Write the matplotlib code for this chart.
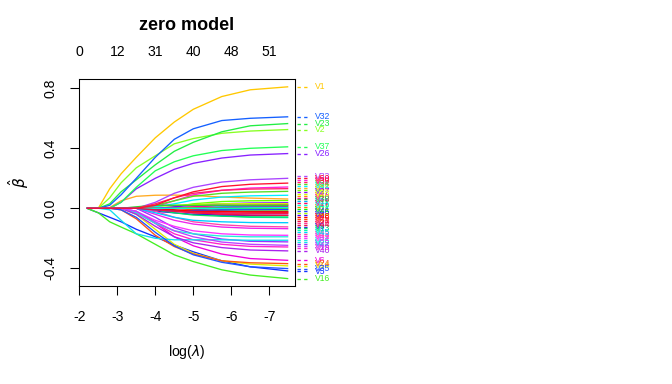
import matplotlib
matplotlib.use("Agg")
import matplotlib.pyplot as plt
import numpy as np

plt.rcParams["font.family"] = ["Liberation Sans", "DejaVu Sans"]

log_lambda = [-2.2, -2.5, -2.8, -3.1, -3.5, -4.0, -4.5, -5.0, -5.75, -6.5, -7.5]

# top axis: number of nonzero coefficients
df_pos = [-2, -3, -4, -5, -6, -7]
df_labels = ["0", "12", "31", "40", "48", "51"]

var_names = [
    "V1", "V2", "V3", "V4", "V5", "V6", "V7", "V8", "V9", "V10",
    "V11", "V12", "V13", "V14", "V15", "V16", "V17", "V18", "V19", "V20",
    "V21", "V22", "V23", "V24", "V25", "V26", "V27", "V28", "V29", "V30",
    "V31", "V32", "V33", "V34", "V35", "V36", "V37", "V38", "V39", "V40",
    "V41", "V42", "V43", "V44", "V45", "V46", "V47", "V48", "V49", "V50",
    "V51",
]

coef_paths = [
    [0, 0, 0.13, 0.23, 0.34, 0.47, 0.575, 0.66, 0.745, 0.79, 0.81],          # V1
    [0, 0, 0.07, 0.17, 0.27, 0.35, 0.43, 0.465, 0.50, 0.515, 0.525],         # V2
    [0, 0, 0, 0, 0, 0, 0.01, 0.03, 0.045, 0.05, 0.052],                      # V3
    [0, 0, 0, 0, 0, 0, 0, 0.01, 0.02, 0.022, 0.024],                         # V4
    [0, -0.03, -0.06, -0.09, -0.14, -0.19, -0.245, -0.29, -0.35, -0.39, -0.418],  # V5
    [0, 0, 0, 0, -0.02, -0.10, -0.19, -0.25, -0.305, -0.335, -0.347],       # V6
    [0, 0, 0, 0, 0, 0, -0.01, -0.03, -0.05, -0.06, -0.062],                  # V7
    [0, 0, 0, 0, 0, 0, 0, -0.005, -0.015, -0.02, -0.022],                    # V8
    [0, 0, 0, 0, 0, -0.02, -0.03, -0.04, -0.045, -0.047, -0.047],            # V9
    [0, 0, 0, 0, 0, 0, 0, 0.01, 0.018, 0.02, 0.021],                         # V10
    [0, 0, 0, 0, 0, 0, 0, 0, 0.01, 0.012, 0.013],                            # V11
    [0, 0, 0, 0, 0, 0, 0.005, 0.003, 0, 0, 0],                               # V12
    [0, 0, 0, 0, 0, -0.01, -0.03, -0.045, -0.053, -0.057, -0.058],           # V13
    [0, 0, 0, 0, -0.04, -0.14, -0.24, -0.30, -0.35, -0.372, -0.384],         # V14
    [0, 0, 0, 0, 0, 0, 0, 0, -0.01, -0.014, -0.015],                         # V15
    [0, -0.03, -0.09, -0.125, -0.17, -0.24, -0.31, -0.355, -0.41, -0.445, -0.469],  # V16
    [0, 0, 0, 0, 0, 0, 0, 0, 0.005, 0.007, 0.008],                           # V17
    [0, 0, 0.005, 0.05, 0.08, 0.087, 0.088, 0.085, 0.075, 0.068, 0.062],     # V18
    [0, 0, 0, 0, -0.03, -0.10, -0.17, -0.21, -0.24, -0.254, -0.258],         # V19
    [0, 0, 0, 0, 0, -0.005, -0.02, -0.03, -0.034, -0.036, -0.036],           # V20
    [0, 0, 0, 0, 0, 0, 0, 0, 0, -0.004, -0.005],                             # V21
    [0, 0, 0, 0, 0, -0.06, -0.13, -0.17, -0.205, -0.22, -0.224],             # V22
    [0, 0, 0.03, 0.11, 0.19, 0.29, 0.38, 0.44, 0.51, 0.55, 0.565],           # V23
    [0, 0, 0, -0.01, -0.07, -0.18, -0.255, -0.305, -0.35, -0.363, -0.369],   # V24
    [0, 0, 0, 0, 0, 0, 0, -0.01, -0.02, -0.025, -0.028],                     # V25
    [0, 0, 0, 0.04, 0.13, 0.20, 0.26, 0.30, 0.335, 0.355, 0.365],            # V26
    [0, 0, 0, 0, 0, 0, 0.01, 0.02, 0.03, 0.035, 0.037],                      # V27
    [0, 0, 0, 0, 0, 0.01, 0.02, 0.025, 0.03, 0.031, 0.031],                  # V28
    [0, 0, -0.01, -0.08, -0.17, -0.20, -0.21, -0.21, -0.21, -0.213, -0.213], # V29
    [0, 0, 0, 0, 0, 0.01, 0.05, 0.09, 0.12, 0.135, 0.142],                   # V30
    [0, 0, 0, 0, 0, 0.01, 0.03, 0.055, 0.075, 0.083, 0.087],                 # V31
    [0, 0, 0.02, 0.09, 0.20, 0.34, 0.46, 0.53, 0.585, 0.60, 0.61],           # V32
    [0, 0, 0, 0, 0, 0.04, 0.10, 0.14, 0.175, 0.19, 0.20],                    # V33
    [0, 0, 0, 0, 0, 0.02, 0.05, 0.08, 0.10, 0.108, 0.113],                   # V34
    [0, 0, 0, -0.01, -0.06, -0.16, -0.25, -0.31, -0.36, -0.39, -0.402],      # V35
    [0, 0, 0, 0, -0.03, -0.10, -0.15, -0.17, -0.185, -0.19, -0.19],          # V36
    [0, 0, 0, 0.04, 0.14, 0.25, 0.31, 0.35, 0.385, 0.40, 0.41],              # V37
    [0, 0, 0, 0, 0.01, 0.02, 0.02, 0.02, 0.02, 0.02, 0.02],                  # V38
    [0, 0, 0, 0, 0, 0.03, 0.07, 0.10, 0.12, 0.128, 0.131],                   # V39
    [0, 0, 0, 0, -0.04, -0.12, -0.19, -0.23, -0.262, -0.278, -0.284],        # V40
    [0, 0, 0, 0, 0, -0.04, -0.08, -0.105, -0.125, -0.133, -0.136],           # V41
    [0, 0, 0, 0, -0.02, -0.08, -0.12, -0.15, -0.17, -0.178, -0.18],          # V42
    [0, 0, 0, 0, 0, -0.02, -0.06, -0.09, -0.11, -0.12, -0.124],              # V43
    [0, 0, 0, 0, 0, 0, -0.015, -0.03, -0.04, -0.045, -0.047],                # V44
    [0, 0, 0, 0, 0, -0.03, -0.06, -0.08, -0.09, -0.095, -0.096],             # V45
    [0, 0, 0, 0, 0, -0.01, -0.02, -0.015, -0.01, -0.01, -0.009],             # V46
    [0, 0, 0, 0, -0.02, -0.09, -0.15, -0.19, -0.225, -0.24, -0.247],         # V47
    [0, 0, 0, 0, 0, 0, -0.01, -0.02, -0.022, -0.024, -0.024],                # V48
    [0, 0, 0, 0, 0, 0, 0, 0, 0, 0.003, 0.004],                               # V49
    [0, 0, 0, 0, 0, 0.02, 0.07, 0.11, 0.145, 0.16, 0.168],                   # V50
    [0, 0, 0, 0, 0, -0.01, -0.02, -0.025, -0.03, -0.032, -0.033],            # V51
]

var_colors = [
    "#FFC800", "#88FF22", "#66FF00", "#FF8800", "#1030FF", "#EE00DD", "#00FFAA", "#4400FF", "#3311EE", "#FF00AA",
    "#00AAFF", "#FF7700", "#00DD66", "#DDEE00", "#AAFF00", "#44EE22", "#FF0066", "#FFAA22", "#FF22CC", "#FF3399",
    "#00FF00", "#9933FF", "#22EE44", "#FF5511", "#FF4400", "#8822FF", "#8800FF", "#CCFF00", "#11DDEE", "#FF22DD",
    "#00EEFF", "#1460FF", "#AA44FF", "#55DD22", "#2255FF", "#22EEDD", "#22FF55", "#33CC33", "#FF2266", "#AA22EE",
    "#EE22EE", "#FF33FF", "#FF44AA", "#EE1144", "#00CCFF", "#2244FF", "#BB44FF", "#FF0000", "#00FFDD", "#FF1030",
    "#EE1144",
]


def spread_labels(vals, gap):
    order = np.argsort(vals)
    y = np.array(vals, dtype=float)[order]
    for _ in range(500):
        moved = False
        for i in range(1, len(y)):
            if y[i] - y[i - 1] < gap - 1e-9:
                d = (gap - (y[i] - y[i - 1])) / 2
                y[i] += d
                y[i - 1] -= d
                moved = True
        if not moved:
            break
    out = np.empty_like(y)
    out[order] = y
    return out


fig = plt.figure(figsize=(7, 4), dpi=96)
ax = fig.add_axes([0.1171, 0.2552, 0.3223, 0.5391])

for name, path, col in zip(var_names, coef_paths, var_colors):
    ax.plot(log_lambda, path, color=col, lw=1.0, solid_capstyle="butt",
            solid_joinstyle="round")

ax.set_xlim(-1.984, -7.684)
ax.set_ylim(-0.518, 0.862)

ax.set_xticks([-2, -3, -4, -5, -6, -7])
ax.set_xticklabels(["-2", "-3", "-4", "-5", "-6", "-7"])
ax.set_yticks([-0.4, 0.0, 0.4, 0.8])
ax.set_yticklabels(["-0.4", "0.0", "0.4", "0.8"], rotation=90, va="center")
ax.tick_params(axis="both", length=7, width=0.8, labelsize=10.5, direction="out")
ax.tick_params(axis="x", pad=11)
ax.tick_params(axis="y", pad=9)
for s in ax.spines.values():
    s.set_linewidth(0.8)

# top axis with number of nonzero coefficients
top = ax.secondary_xaxis("top")
top.set_xticks(df_pos)
top.set_xticklabels(df_labels)
top.tick_params(length=0, labelsize=10.5, pad=15)
top.spines["top"].set_visible(False)

ax.set_title("zero model", fontsize=13.5, fontweight="bold", pad=37)
ax.set_xlabel(r"log($\lambda$)", fontsize=10.5, labelpad=14)
ax.set_ylabel(r"$\hat{\beta}$", fontsize=11.5, rotation=90, va="center")
ax.yaxis.set_label_coords(-0.28, 0.5)

# right-hand variable labels
finals = [p[-1] for p in coef_paths]
label_y = spread_labels(finals, 0.013)
trans = ax.get_yaxis_transform()
for name, col, ly in zip(var_names, var_colors, label_y):
    ax.plot([1.008, 1.068], [ly, ly], color=col, lw=1.0, ls=(0, (2.5, 2.5)),
            transform=trans, clip_on=False)
    ax.text(1.09, ly, name, color=col, fontsize=6.5, va="center", ha="left",
            transform=trans, clip_on=False)

fig.savefig("out.png", dpi=96)
